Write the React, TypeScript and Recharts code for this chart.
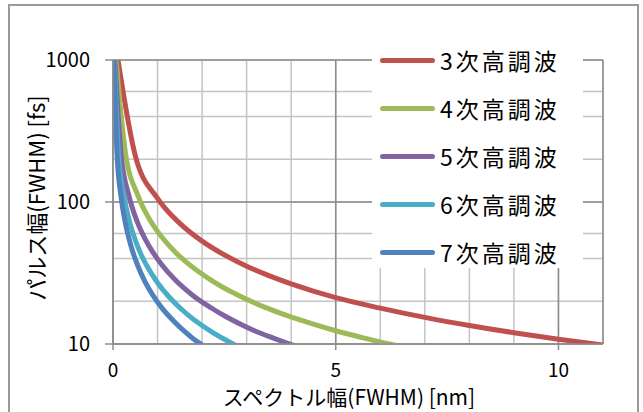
import { LineChart, Line, XAxis, YAxis, CartesianGrid, Legend, Label } from "recharts"

// pulse width [fs] against spectral width [nm] for each harmonic
const h3 = [
  { x: 0.1, y: 1060 }, { x: 0.5, y: 212 }, { x: 1, y: 106 }, { x: 1.5, y: 70.7 },
  { x: 2, y: 53 }, { x: 2.5, y: 42.4 }, { x: 3, y: 35.3 }, { x: 3.5, y: 30.3 },
  { x: 4, y: 26.5 }, { x: 5, y: 21.2 }, { x: 6, y: 17.9 }, { x: 7, y: 15.4 },
  { x: 8, y: 13.5 }, { x: 9, y: 12 }, { x: 10, y: 10.8 }, { x: 11, y: 9.85 },
]
const h4 = [
  { x: 0.056, y: 1107 }, { x: 0.28, y: 221 }, { x: 0.56, y: 111 }, { x: 0.84, y: 73.8 },
  { x: 1.1, y: 56.4 }, { x: 1.4, y: 44.3 }, { x: 1.7, y: 36.5 }, { x: 2.2, y: 28.2 },
  { x: 2.8, y: 22.1 }, { x: 3.4, y: 18.2 }, { x: 3.9, y: 15.9 }, { x: 4.5, y: 13.8 },
  { x: 5, y: 12.4 }, { x: 5.6, y: 11.1 }, { x: 6.2, y: 10 }, { x: 6.7, y: 9.25 },
]
const h5 = [
  { x: 0.036, y: 1097 }, { x: 0.18, y: 219 }, { x: 0.36, y: 110 }, { x: 0.54, y: 73 },
  { x: 0.72, y: 55 }, { x: 0.9, y: 44 }, { x: 1.1, y: 36 }, { x: 1.4, y: 28.2 },
  { x: 1.8, y: 21.9 }, { x: 2.2, y: 18 }, { x: 2.5, y: 15.8 }, { x: 2.9, y: 13.6 },
  { x: 3.2, y: 12.3 }, { x: 3.6, y: 11 }, { x: 4, y: 9.9 }, { x: 4.3, y: 9.2 },
]
const h6 = [
  { x: 0.025, y: 1080 }, { x: 0.125, y: 216 }, { x: 0.25, y: 108 }, { x: 0.375, y: 72 },
  { x: 0.5, y: 54 }, { x: 0.625, y: 43 }, { x: 0.75, y: 36 }, { x: 1, y: 27 },
  { x: 1.25, y: 21.6 }, { x: 1.5, y: 18 }, { x: 1.75, y: 15.4 }, { x: 2, y: 13.5 },
  { x: 2.25, y: 12 }, { x: 2.5, y: 10.8 }, { x: 2.75, y: 9.8 }, { x: 3, y: 9 },
]
const h7 = [
  { x: 0.018, y: 1094 }, { x: 0.09, y: 219 }, { x: 0.18, y: 109 }, { x: 0.27, y: 73 },
  { x: 0.36, y: 55 }, { x: 0.45, y: 44 }, { x: 0.55, y: 36 }, { x: 0.72, y: 27.4 },
  { x: 0.9, y: 21.9 }, { x: 1.1, y: 17.9 }, { x: 1.25, y: 15.8 }, { x: 1.45, y: 13.6 },
  { x: 1.6, y: 12.3 }, { x: 1.8, y: 10.9 }, { x: 2, y: 9.85 }, { x: 2.2, y: 9 },
]

const xTicks = [0, 5, 10]
const xMinor = [0, 1, 2, 3, 4, 5, 6, 7, 8, 9, 10, 11]
const yTicks = [10, 100, 1000]
const yMinor = [10, 20, 30, 40, 50, 60, 70, 80, 90, 100, 200, 300, 400, 500, 600, 700, 800, 900, 1000]

const series = [
  { name: "3次高調波", color: "#C0504D", data: h3 },
  { name: "4次高調波", color: "#9BBB59", data: h4 },
  { name: "5次高調波", color: "#8064A2", data: h5 },
  { name: "6次高調波", color: "#4BACC6", data: h6 },
  { name: "7次高調波", color: "#4F81BD", data: h7 },
]

const font = "'Noto Sans CJK JP', 'Noto Sans', sans-serif"

function LegendBox({ payload }: any) {
  return (
    <div style={{ background: "#fff", width: 211, height: 232 }}>
      {(payload || []).map((p: any) => (
        <div key={p.value} style={{ display: "flex", alignItems: "center", height: 48 }}>
          <div style={{ marginLeft: 8, width: 55, height: 5, borderRadius: 3, background: p.color }} />
          <span style={{ marginLeft: 5, fontSize: 23, letterSpacing: 3, color: "#000", fontFamily: font }}>
            {p.value}
          </span>
        </div>
      ))}
    </div>
  )
}

export default function App() {
  return (
    <div style={{ position: "absolute", left: 0, top: 0, width: 643, height: 412, overflow: "hidden", background: "#fff" }}>
      <div style={{ position: "absolute", left: 8, top: 4, width: 627, height: 430, border: "2px solid #9a9a9a" }} />
      <LineChart width={643} height={412} margin={{ top: 60, right: 40, left: 5, bottom: 6 }} style={{ fontFamily: font }}>
        <XAxis xAxisId="m" hide type="number" dataKey="x" domain={[0, 11]} ticks={xMinor} allowDataOverflow />
        <YAxis yAxisId="m" hide scale="log" domain={[10, 1000]} ticks={yMinor} allowDataOverflow />
        <CartesianGrid xAxisId="m" yAxisId="m" stroke="#c4c4c4" strokeWidth={1.5} />
        <CartesianGrid stroke="#8c8c8c" strokeWidth={1.5} />
        <XAxis
          type="number" dataKey="x" domain={[0, 11]} ticks={xTicks} allowDataOverflow height={62}
          axisLine={{ stroke: "#8c8c8c", strokeWidth: 1.5 }} tickLine={{ stroke: "#8c8c8c", strokeWidth: 1.5 }}
          tickSize={6} tickMargin={14} tick={{ fill: "#000", fontSize: 19 }}
        >
          <Label value="スペクトル幅(FWHM) [nm]" position="insideBottom" offset={1} dx={-9} fill="#000" fontSize={21} />
        </XAxis>
        <YAxis
          scale="log" domain={[10, 1000]} ticks={yTicks} allowDataOverflow width={108}
          axisLine={{ stroke: "#8c8c8c", strokeWidth: 1.5 }} tickLine={{ stroke: "#8c8c8c", strokeWidth: 1.5 }}
          tickSize={8} tickMargin={15} tick={{ fill: "#000", fontSize: 20 }}
        >
          <Label value="パルス幅(FWHM) [fs]" angle={-90} position="insideLeft" offset={32} dy={-4} fill="#000" fontSize={22} style={{ textAnchor: "middle" }} />
        </YAxis>
        {series.map((s) => (
          <Line
            key={s.name} name={s.name} data={s.data} dataKey="y" type="monotone"
            stroke={s.color} strokeWidth={5} dot={false} strokeLinejoin="round"
            isAnimationActive={false}
          />
        ))}
        <Legend
          layout="vertical" align="center" verticalAlign="middle" content={<LegendBox />}
          wrapperStyle={{ left: 372, top: 36, width: 211, height: 232 }}
        />
      </LineChart>
    </div>
  )
}
